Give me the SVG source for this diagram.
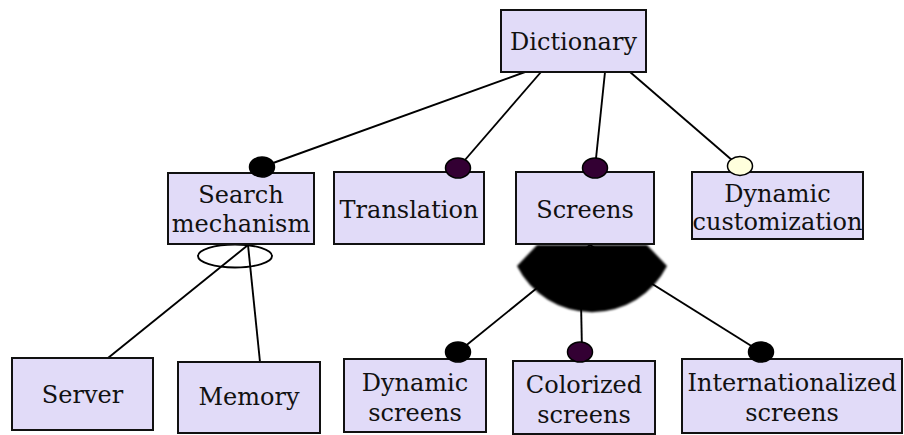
<svg xmlns="http://www.w3.org/2000/svg" width="904" height="435" viewBox="0 0 904 435">
<style>
.box{fill:#e1dbf8;stroke:#111;stroke-width:2}
.lbl{font-family:"DejaVu Serif","Liberation Serif",serif;font-size:24px;fill:#111;text-anchor:middle}
.ln{stroke:#000;stroke-width:1.9;fill:none}
.bk{fill:#000;stroke:#000;stroke-width:1.5}
.pu{fill:#330033;stroke:#000;stroke-width:1.5}
.ye{fill:#ffffdd;stroke:#000;stroke-width:1.5}
</style>
<defs>
<filter id="blur" x="-10%" y="-10%" width="120%" height="120%"><feGaussianBlur stdDeviation="1.3"/></filter>
</defs>
<rect width="904" height="435" fill="#fff"/>
<g id="connectors">
<line class="ln" x1="525" y1="72" x2="262" y2="167"/>
<line class="ln" x1="541" y1="72" x2="458" y2="168"/>
<line class="ln" x1="605" y1="72" x2="595" y2="168"/>
<line class="ln" x1="630" y1="72" x2="740" y2="167"/>
<line class="ln" x1="248" y1="245" x2="108" y2="358"/>
<line class="ln" x1="248" y1="245" x2="260" y2="362"/>
<ellipse class="ln" cx="235" cy="256" rx="37" ry="11.5"/>
<line class="ln" x1="590" y1="245" x2="458" y2="352"/>
<line class="ln" x1="580" y1="250" x2="582" y2="352"/>
<line class="ln" x1="590" y1="245" x2="761" y2="352"/>
<path d="M537,245 L647,245 L667,266 A84 84 0 0 1 517,266 Z" fill="#000" filter="url(#blur)"/>
</g>
<g id="dictionary">
<rect class="box" x="501" y="10" width="145" height="62"/>
<text class="lbl" x="573.5" y="50">Dictionary</text>
</g>
<g id="search-mechanism">
<rect class="box" x="168" y="173" width="146" height="71"/>
<text class="lbl" x="241" y="203">Search</text>
<text class="lbl" x="241" y="232">mechanism</text>
</g>
<g id="translation">
<rect class="box" x="334" y="172" width="150" height="72"/>
<text class="lbl" x="409" y="218">Translation</text>
</g>
<g id="screens">
<rect class="box" x="516" y="172" width="138" height="72"/>
<text class="lbl" x="585" y="218">Screens</text>
</g>
<g id="dynamic-customization">
<rect class="box" x="692" y="172" width="171" height="67"/>
<text class="lbl" x="777.5" y="202">Dynamic</text>
<text class="lbl" x="777.5" y="230">customization</text>
</g>
<g id="server">
<rect class="box" x="12" y="358" width="141" height="72"/>
<text class="lbl" x="82.5" y="403">Server</text>
</g>
<g id="memory">
<rect class="box" x="178" y="362" width="142" height="71"/>
<text class="lbl" x="249" y="405">Memory</text>
</g>
<g id="dynamic-screens">
<rect class="box" x="344" y="359" width="142" height="73"/>
<text class="lbl" x="415" y="391">Dynamic</text>
<text class="lbl" x="415" y="421">screens</text>
</g>
<g id="colorized-screens">
<rect class="box" x="513" y="361" width="142" height="73"/>
<text class="lbl" x="584" y="393">Colorized</text>
<text class="lbl" x="584" y="423">screens</text>
</g>
<g id="internationalized-screens">
<rect class="box" x="682" y="359" width="220" height="74"/>
<text class="lbl" x="792" y="391">Internationalized</text>
<text class="lbl" x="792" y="421">screens</text>
</g>
<g id="markers">
<ellipse class="bk" cx="262" cy="167" rx="12.5" ry="10"/>
<ellipse class="pu" cx="458" cy="168" rx="12.5" ry="10"/>
<ellipse class="pu" cx="595" cy="168" rx="12.5" ry="10"/>
<ellipse class="ye" cx="740" cy="166" rx="12.5" ry="9.5"/>
<ellipse class="bk" cx="458" cy="352" rx="12.5" ry="10"/>
<ellipse class="pu" cx="580" cy="352" rx="12.5" ry="10"/>
<ellipse class="bk" cx="761" cy="352" rx="12.5" ry="10"/>
</g>
</svg>
